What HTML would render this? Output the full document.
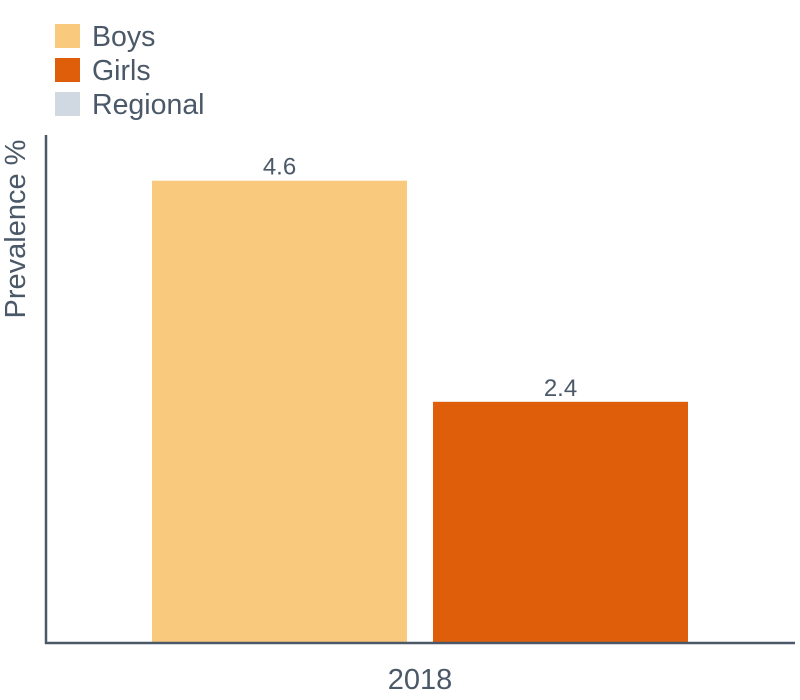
<!DOCTYPE html>
<html><head><meta charset="utf-8"><style>
body{margin:0;background:#fff;}
svg{display:block;font-family:"Liberation Sans",Arial,sans-serif;}
</style></head><body>
<svg id="chart" width="800" height="700">
<g>
<g><rect x="55" y="24" width="25" height="24" fill="#f9c97d"/><text x="92" y="46" font-size="28.5" fill="#4a5868">Boys</text></g>
<g><rect x="55" y="58" width="25" height="24" fill="#de5e0a"/><text x="92" y="80" font-size="28.5" fill="#4a5868">Girls</text></g>
<g><rect x="55" y="92" width="25" height="24" fill="#d0d8e2"/><text x="92" y="114" font-size="28.5" fill="#4a5868">Regional</text></g>
</g>
<text transform="translate(25,229) rotate(-90)" text-anchor="middle" font-size="29" fill="#4a5868">Prevalence %</text>
<g id="bars"></g>
<line x1="46" y1="135" x2="46" y2="644" stroke="#4a5868" stroke-width="2.5"/>
<line x1="45" y1="643" x2="795" y2="643" stroke="#4a5868" stroke-width="2.5"/>
<text x="420" y="689" text-anchor="middle" font-size="29" fill="#4a5868">2018</text>
</svg>
<script>
const categories = ["Boys", "Girls"];
const values = [4.6, 2.4];
const colors = ["#f9c97d", "#de5e0a"];
const baseY = 643, pxPerUnit = 100.5;
function y(v){ return baseY - v * pxPerUnit; }
function xPos(i){ return 152 + i * 281; }
const barW = 255;
const g = document.getElementById('bars');
const ns = "http://www.w3.org/2000/svg";
values.forEach((v, i) => {
  const r = document.createElementNS(ns, 'rect');
  
  
  r.setAttribute('x', xPos(i));
  r.setAttribute('y', y(v));
  r.setAttribute('width', barW);
  r.setAttribute('height', baseY - y(v));
  r.setAttribute('fill', colors[i]);
  g.appendChild(r);
  const t = document.createElementNS(ns, 'text');
  
  
  t.setAttribute('x', xPos(i) + barW / 2);
  t.setAttribute('y', y(v) - 6);
  t.setAttribute('text-anchor', 'middle');
  t.setAttribute('font-size', '24');
  t.setAttribute('fill', '#4a5868');
  t.textContent = v.toFixed(1);
  g.appendChild(t);
});
</script>
</body></html>
